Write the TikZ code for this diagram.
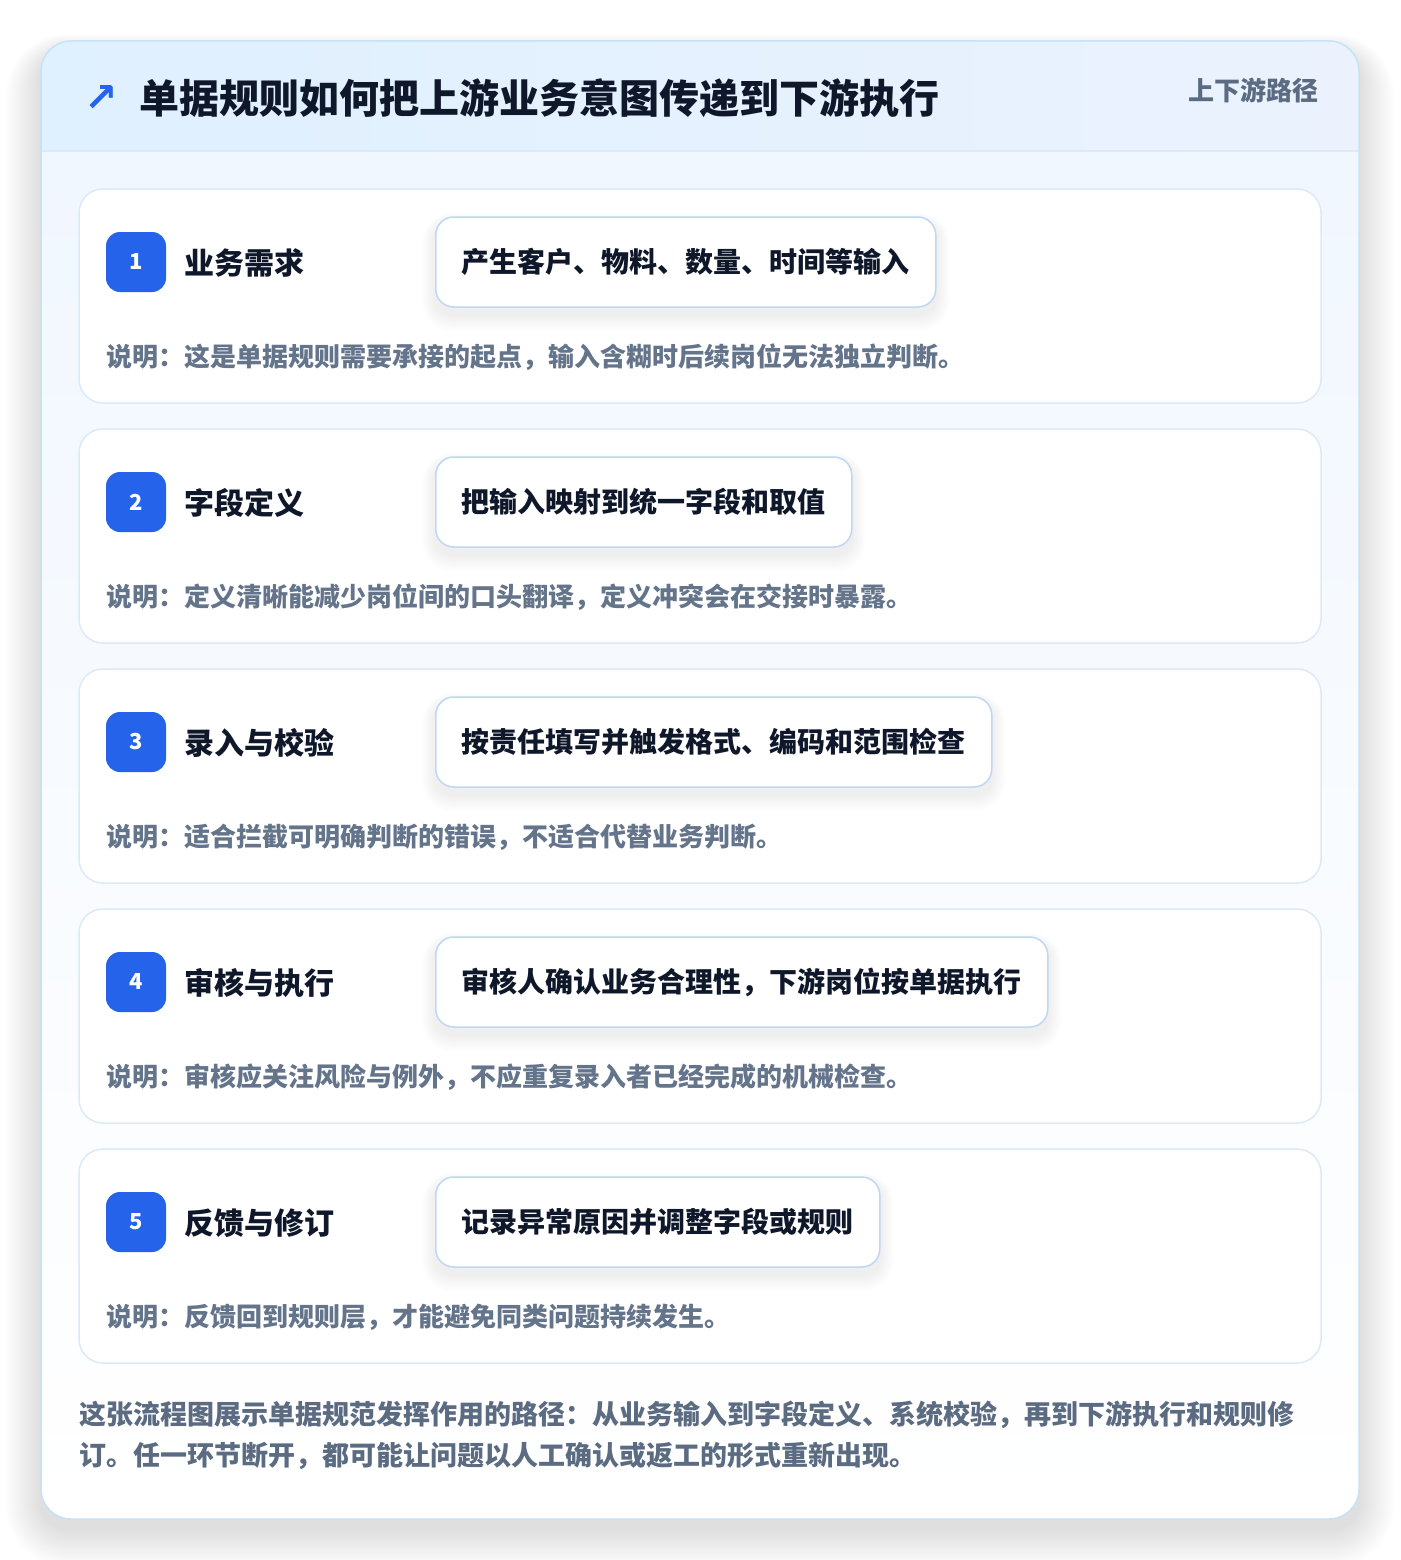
\documentclass[tikz,border=0pt]{standalone}
\usepackage{fontspec}
\setmainfont{Noto Sans CJK SC}
\newfontfamily\symfont{DejaVu Sans}
\definecolor{badgeblue}{HTML}{2563EB}
\definecolor{titleink}{HTML}{0F172A}
\definecolor{grayink}{HTML}{64748B}
\definecolor{footink}{HTML}{5B6B82}
\definecolor{outerline}{HTML}{C5E2F7}
\definecolor{cardline}{HTML}{DCE9F8}
\definecolor{pillline}{HTML}{BFD7F5}
\definecolor{headleft}{HTML}{DFF0FE}
\definecolor{headright}{HTML}{EBF2FE}
\definecolor{bodytop}{HTML}{F1F7FF}
\definecolor{shadowink}{HTML}{1E293B}
\tikzset{
  card/.style={draw=cardline, line width=1.5pt, fill=white, rounded corners=24pt,
    minimum width=1242pt, minimum height=214pt, inner sep=0pt},
  badge/.style={fill=badgeblue, rounded corners=14pt, minimum width=60pt, minimum height=60pt,
    inner sep=0pt, text=white, font=\fontsize{22}{26}\selectfont\bfseries},
  steplabel/.style={anchor=west, inner sep=0pt, text=titleink, font=\fontsize{30}{36}\selectfont\bfseries},
  pill/.style={anchor=west, draw=pillline, line width=1.5pt, fill=white, rounded corners=18pt,
    minimum height=90pt, inner xsep=26pt, text=titleink,
    font=\fontsize{28}{34}\selectfont\bfseries},
  desc/.style={anchor=west, inner sep=0pt, text=grayink, font=\fontsize{26}{32}\selectfont\bfseries},
}
\begin{document}
\begin{tikzpicture}[x=1pt,y=-1pt]
\useasboundingbox (0,0) rectangle (1400,1560);
\fill[white] (0,0) rectangle (1400,1560);
% outer card soft shadow
\foreach \k in {1,...,16}{
  \fill[shadowink, opacity=0.006, rounded corners={30pt+2*\k pt}]
    (41-2.2*\k, 41-1.2*\k+12) rectangle (1359+2.2*\k, 1519+2.4*\k+10);
}
\fill[white, rounded corners=30pt] (41,41) rectangle (1359,1519);
\begin{scope}
  \clip[rounded corners=30pt] (41,41) rectangle (1359,1519);
  \shade[top color=bodytop, bottom color=white] (41,151) rectangle (1359,1519);
  \shade[left color=headleft, right color=headright] (41,41) rectangle (1359,151);
  \draw[cardline, line width=1.5pt] (41,151) -- (1359,151);
\end{scope}
\draw[outerline, line width=1.5pt, rounded corners=30pt] (41,41) rectangle (1359,1519);
% header
\node[inner sep=0pt, text=badgeblue, font=\symfont\bfseries\fontsize{40}{44}\selectfont] (arrow) at (101,99) {↗};
\node[anchor=west, inner sep=0pt, text=titleink, font=\fontsize{40}{48}\selectfont\bfseries] (title) at (139,98) {单据规则如何把上游业务意图传递到下游执行};
\node[anchor=east, inner sep=0pt, text=footink, font=\fontsize{26}{30}\selectfont\bfseries] (tag) at (1319,90) {上下游路径};
% steps
\foreach \i/\lab/\act/\txt in {
  1/业务需求/产生客户、物料、数量、时间等输入/说明：这是单据规则需要承接的起点，输入含糊时后续岗位无法独立判断。,
  2/字段定义/把输入映射到统一字段和取值/说明：定义清晰能减少岗位间的口头翻译，定义冲突会在交接时暴露。,
  3/录入与校验/按责任填写并触发格式、编码和范围检查/说明：适合拦截可明确判断的错误，不适合代替业务判断。,
  4/审核与执行/审核人确认业务合理性，下游岗位按单据执行/说明：审核应关注风险与例外，不应重复录入者已经完成的机械检查。,
  5/反馈与修订/记录异常原因并调整字段或规则/说明：反馈回到规则层，才能避免同类问题持续发生。}{
  \pgfmathsetmacro{\dy}{(\i-1)*240}
  \node[card] (card\i) at (700,296+\dy) {};
  \node[badge] (badge\i) at (136,262+\dy) {\i};
  \node[steplabel] (label\i) at (184,263+\dy) {\lab};
  \node[pill, draw=none, fill=none, text=white] (ghost\i) at (435,262+\dy) {\act};
  \foreach \k in {1,...,8}{
    \fill[shadowink, opacity=0.008, rounded corners={18pt+1.5*\k pt}]
      ([xshift=-1.6*\k pt, yshift=-6pt+1.2*\k pt]ghost\i.north west) rectangle
      ([xshift=1.6*\k pt, yshift=-6pt-2.2*\k pt]ghost\i.south east);
  }
  \node[pill] (pill\i) at (435,262+\dy) {\act};
  \node[desc] (desc\i) at (106,357+\dy) {\txt};
}
% footer
\node[anchor=west, inner sep=0pt, align=left, text=footink, font=\fontsize{27}{41}\selectfont\bfseries] (foot) at (79,1435.5)
  {这张流程图展示单据规范发挥作用的路径：从业务输入到字段定义、系统校验，再到下游执行和规则修\\订。任一环节断开，都可能让问题以人工确认或返工的形式重新出现。};
\end{tikzpicture}
\end{document}
